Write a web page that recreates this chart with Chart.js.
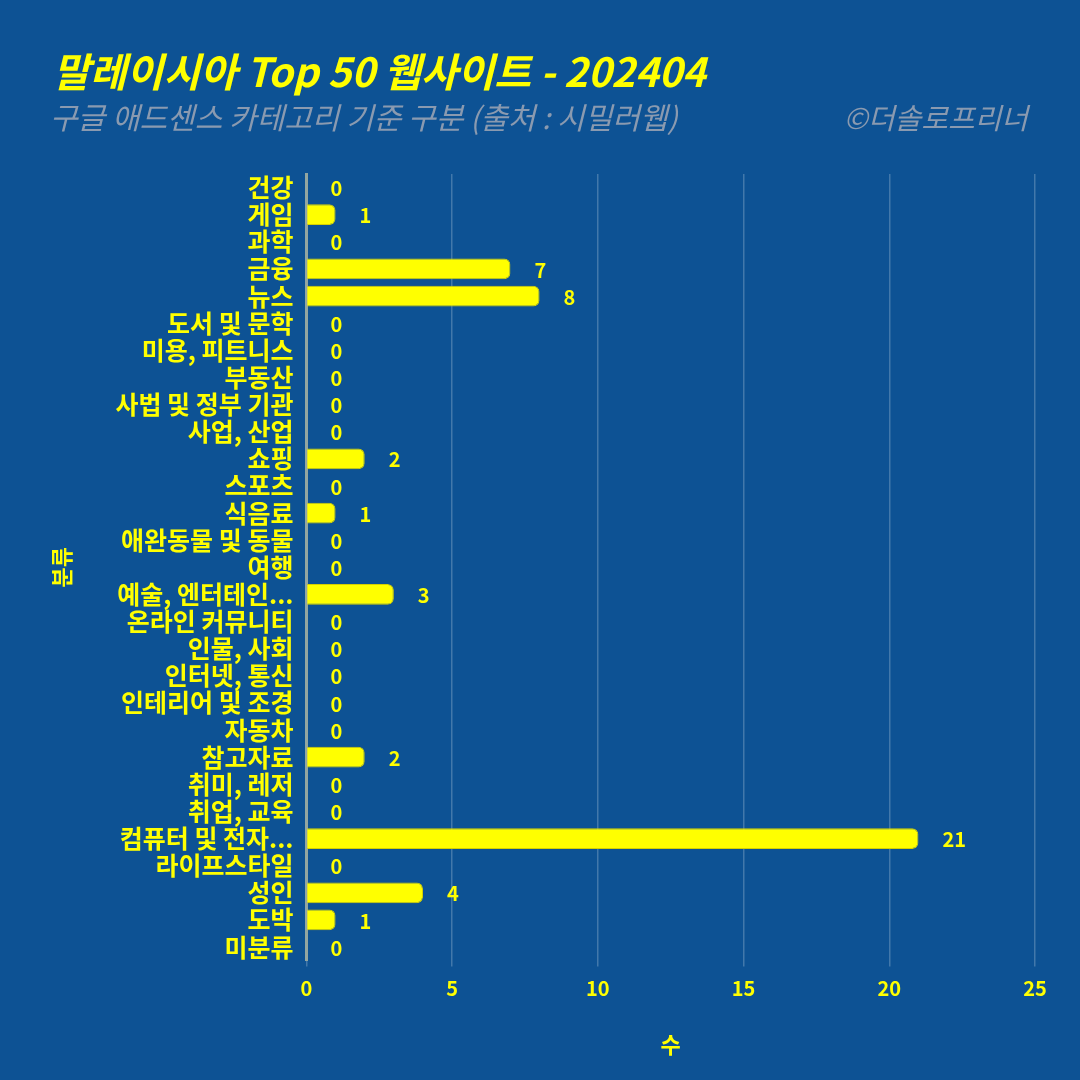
<!DOCTYPE html>
<html>
<head>
<meta charset="utf-8">
<script src="https://cdn.jsdelivr.net/npm/chart.js@4"></script>
<style>
  body { margin: 0; background: #0d5294; }
  canvas { display: block; }
</style>
</head>
<body>
<canvas id="myChart" width="1080" height="1080"></canvas>
<script>
// data
const categories = ['건강', '게임', '과학', '금융', '뉴스', '도서 및 문학', '미용, 피트니스', '부동산',
  '사법 및 정부 기관', '사업, 산업', '쇼핑', '스포츠', '식음료', '애완동물 및 동물', '여행',
  '예술, 엔터테인...', '온라인 커뮤니티', '인물, 사회', '인터넷, 통신', '인테리어 및 조경', '자동차',
  '참고자료', '취미, 레저', '취업, 교육', '컴퓨터 및 전자...', '라이프스타일', '성인', '도박', '미분류']
const counts = [0, 1, 0, 7, 8, 0, 0, 0, 0, 0, 2, 0, 1, 0, 0, 3, 0, 0, 0, 0, 0, 2, 0, 0, 21, 0, 4, 1, 0]
const xTicks = [0, 5, 10, 15, 20, 25]

const titleText = '말레이시아 Top 50 웹사이트 - 202404'
const subtitleText = '구글 애드센스 카테고리 기준 구분 (출처 : 시밀러웹)'
const creditText = '©더솔로프리너'

const yellow = '#ffff00'
const grey = '#8a9ab0'
const font = "'Noto Sans CJK KR', 'Noto Sans', sans-serif"

// title, subtitle, credit and the numbers at the end of each bar
const textLayer = {
    id: 'textLayer',
    afterDatasetsDraw(chart) {
        const ctx = chart.ctx
        const meta = chart.getDatasetMeta(0)
        ctx.save()
        ctx.textBaseline = 'middle'
        ctx.fillStyle = yellow
        ctx.font = 'bold 20px ' + font
        ctx.textAlign = 'left'
        meta.data.forEach((bar, i) => {
            ctx.fillText(String(counts[i]), bar.x + 24, bar.y + 1)
        })

        ctx.font = 'italic bold 40px ' + font
        ctx.fillText(titleText, 53, 72)
        ctx.fillStyle = grey
        ctx.font = 'italic 30px ' + font
        ctx.fillText(subtitleText, 50, 118)
        ctx.textAlign = 'right'
        ctx.font = 'italic 29px ' + font
        ctx.fillText(creditText, 1028, 118)
        ctx.restore()
    }
}

const ctx = document.getElementById('myChart').getContext('2d')
const chart = new Chart(ctx, {
    type: 'bar',
    data: {
        labels: categories,
        datasets: [{
            data: counts,
            backgroundColor: yellow,
            borderColor: '#d6d000',
            borderWidth: 1,
            borderSkipped: 'start',
            borderRadius: 6,
            barPercentage: 0.9,
            categoryPercentage: 0.85
        }]
    },
    options: {
        indexAxis: 'y',
        responsive: false,
        animation: false,
        layout: { padding: { left: 44, right: 45, top: 174, bottom: 18 } },
        plugins: {
            legend: { display: false },
            tooltip: { enabled: false }
        },
        scales: {
            x: {
                min: 0,
                max: 25,
                afterBuildTicks: (axis) => { axis.ticks = xTicks.map(v => ({ value: v })) },
                grid: { color: 'rgba(255,255,255,0.22)', lineWidth: 1.5, drawTicks: true, tickLength: 6 },
                border: { display: false },
                ticks: { color: yellow, font: { family: font, size: 20, weight: 'bold' }, padding: 10 },
                title: {
                    display: true,
                    text: '수',
                    color: yellow,
                    font: { family: font, size: 22, weight: 'bold' },
                    padding: { top: 21 }
                }
            },
            y: {
                grid: { display: false },
                border: { display: true, color: '#93a6a0', width: 3 },
                ticks: { color: yellow, font: { family: font, size: 25, weight: 'bold' }, padding: 5, autoSkip: false },
                title: {
                    display: true,
                    text: '분류',
                    color: yellow,
                    font: { family: font, size: 22, weight: 'bold' },
                    padding: { bottom: 36 }
                }
            }
        }
    },
    plugins: [textLayer]
})
</script>
</body>
</html>
